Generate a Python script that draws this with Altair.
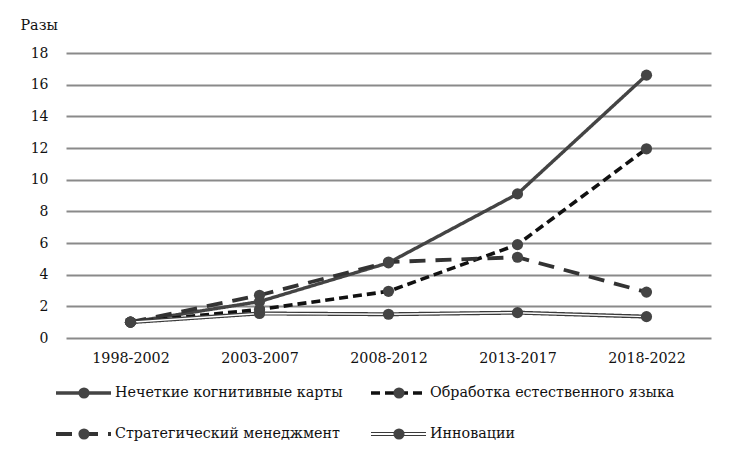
import altair as alt
import pandas as pd

periods = ["1998-2002", "2003-2007", "2008-2012", "2013-2017", "2018-2022"]
s_fcm = [1.0, 2.3, 4.75, 9.1, 16.6]
s_nlp = [1.0, 1.8, 2.95, 5.9, 11.95]
s_sm = [1.0, 2.7, 4.8, 5.1, 2.9]
s_inn = [1.0, 1.55, 1.5, 1.6, 1.35]
names = ["Нечеткие когнитивные карты", "Обработка естественного языка",
         "Стратегический менеджмент", "Инновации"]
colors = ["#444444", "#111111", "#333333", "#3a3a3a"]
dashes = [[1, 0], [9, 5], [16, 10], [1, 0]]
widths = [3.4, 4, 3.6, 5]

rows = []
for n, vals in zip(names, [s_fcm, s_nlp, s_sm, s_inn]):
    for p, v in zip(periods, vals):
        rows.append({"series": n, "period": p, "value": v})
df = pd.DataFrame(rows)

FONT = "DejaVu Serif"
FS = 14.3
W, H = 645, 285

x = alt.X("period:N", sort=periods, title=None,
          scale=alt.Scale(paddingInner=0, paddingOuter=0.5, padding=0.5),
          axis=alt.Axis(labelAngle=0, ticks=False, domain=False, labelPadding=13,
                        labelFontSize=FS, labelFont=FONT, labelColor="#111"))
y = alt.Y("value:Q", scale=alt.Scale(domain=[0, 18]),
          axis=alt.Axis(values=list(range(0, 19, 2)), title="Разы", titleAngle=0,
                        titleAlign="left", titleBaseline="alphabetic", titleX=-46, titleY=-24,
                        titleFont=FONT, titleFontSize=FS, titleFontWeight="normal", titleColor="#111",
                        labelFont=FONT, labelFontSize=14, labelColor="#111", labelPadding=18,
                        ticks=False, domain=False, grid=True, gridColor="#8a8a8a", gridWidth=1.8))

color = alt.Color("series:N", scale=alt.Scale(domain=names, range=colors), legend=None)
dash = alt.StrokeDash("series:N", scale=alt.Scale(domain=names, range=dashes), legend=None)
sw = alt.StrokeWidth("series:N", scale=alt.Scale(domain=names, range=widths), legend=None)

base = alt.Chart(df)
lines = base.mark_line().encode(x=x, y=y, color=color, strokeDash=dash, strokeWidth=sw,
                                order=alt.Order("series:N"))
inner = base.transform_filter(alt.datum.series == names[3]).mark_line(
    color="white", strokeWidth=1.5).encode(x=x, y=y)
pts = base.mark_circle(size=125, opacity=1, color="#444444").encode(x=x, y=y)

top = alt.layer(lines, inner, pts).properties(width=W, height=H)

# legend
leg = pd.DataFrame({"series": names, "col": [0, 1, 0, 1], "row": [0, 0, 1, 1]})
lb = alt.Chart(leg).transform_calculate(
    xs="datum.col * 315 - 10", xe="datum.col * 315 + 45", xc="datum.col * 315 + 18",
    xt="datum.col * 315 + 49", yp="datum.row * 41 + 9")
lx = alt.Scale(domain=[0, W], range=[0, W])
ly = alt.Scale(domain=[0, 50], range=[0, 50])
lsw = alt.StrokeWidth("series:N", scale=alt.Scale(domain=names, range=[4.5, 4.5, 4.5, 5.5]), legend=None)
lrule = lb.mark_rule().encode(
    x=alt.X("xs:Q", scale=lx, axis=None), x2="xe:Q", y=alt.Y("yp:Q", scale=ly, axis=None),
    color=color, strokeDash=dash, strokeWidth=lsw)
lin = lb.transform_filter(alt.datum.series == names[3]).mark_rule(color="white", strokeWidth=1.8).encode(
    x=alt.X("xs:Q", scale=lx, axis=None), x2="xe:Q", y=alt.Y("yp:Q", scale=ly, axis=None))
lpt = lb.mark_circle(size=125, opacity=1, color="#444444").encode(
    x=alt.X("xc:Q", scale=lx, axis=None), y=alt.Y("yp:Q", scale=ly, axis=None))
ltx = lb.mark_text(align="left", baseline="middle", font=FONT, fontSize=FS, color="#111").encode(
    x=alt.X("xt:Q", scale=lx, axis=None), y=alt.Y("yp:Q", scale=ly, axis=None), text="series:N")
legend = alt.layer(lrule, lin, lpt, ltx).properties(width=W, height=50)

chart = alt.vconcat(top, legend, spacing=18).properties(
    padding={"left": 12, "top": 10, "right": 5, "bottom": 5}
).configure(background="white").configure_view(stroke=None)

chart.save("out.html", embed_options={"renderer": "svg", "actions": False})
